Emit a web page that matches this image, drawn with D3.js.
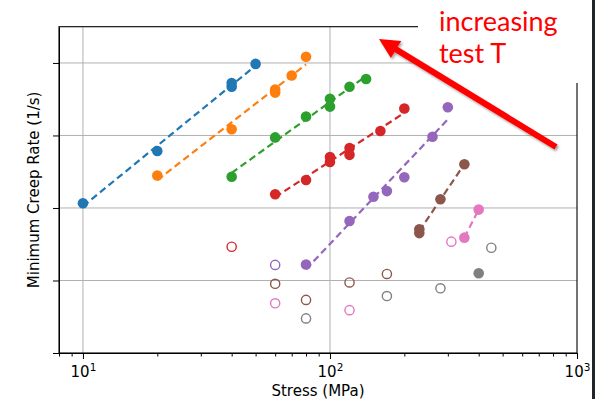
<!DOCTYPE html>
<meta charset="utf-8">
<style>
    body { margin: 0; background: #fff; }
    text { font-family: "DejaVu Sans", sans-serif; }
</style>
<svg width="595" height="399"></svg>
<script src="https://d3js.org/d3.v7.min.js"></script>
<script>

    // filled points + dashed fits, one pair of arrays per test temperature
    var stressBlue = [10, 20, 40, 40, 50],
        rateBlue = [1.16e-8, 6.1e-8, 5.3e-7, 4.7e-7, 9.7e-7];
    var stressOrange = [20, 40, 60, 60, 70, 80],
        rateOrange = [2.8e-8, 1.22e-7, 4.3e-7, 3.9e-7, 6.7e-7, 1.22e-6];
    var stressGreen = [40, 60, 80, 100, 100, 120, 140],
        rateGreen = [2.7e-8, 9.4e-8, 1.82e-7, 3.2e-7, 2.5e-7, 4.7e-7, 6.0e-7];
    var stressRed = [60, 80, 100, 100, 120, 120, 160, 200],
        rateRed = [1.55e-8, 2.43e-8, 5.05e-8, 4.3e-8, 6.7e-8, 5.4e-8, 1.15e-7, 2.36e-7];
    var stressPurple = [80, 120, 150, 170, 200, 260, 300],
        ratePurple = [1.66e-9, 6.6e-9, 1.43e-8, 1.71e-8, 2.65e-8, 9.6e-8, 2.45e-7];
    var stressBrown = [230, 230, 280, 350],
        rateBrown = [5.1e-9, 4.5e-9, 1.32e-8, 4.0e-8];
    var stressPink = [350, 400],
        ratePink = [3.9e-9, 9.5e-9];
    var stressGray = [400],
        rateGray = [1.26e-9];

    // open circles (index into colors)
    var openStress = [40, 60, 60, 60, 80, 80, 120, 120, 170, 170, 280, 310, 450];
    var openRate = [2.92e-9, 1.64e-9, 9.0e-10, 4.85e-10, 5.4e-10, 3.0e-10, 9.4e-10,
        3.9e-10, 1.23e-9, 6.1e-10, 7.8e-10, 3.43e-9, 2.83e-9];
    var openSeries = [3, 4, 5, 6, 5, 7, 5, 6, 5, 7, 7, 6, 7];

    var xMajor = [10, 100, 1000];
    var xMinor = [8, 9, 20, 30, 40, 50, 60, 70, 80, 90, 200, 300, 400, 500, 600, 700, 800, 900];
    var yMajor = [1e-10, 1e-9, 1e-8, 1e-7, 1e-6];

    var colors = ["#1f77b4", "#ff7f0e", "#2ca02c", "#d62728", "#9467bd",
        "#8c564b", "#e377c2", "#7f7f7f"];

    var series = [
        [stressBlue, rateBlue], [stressOrange, rateOrange], [stressGreen, rateGreen],
        [stressRed, rateRed], [stressPurple, ratePurple], [stressBrown, rateBrown],
        [stressPink, ratePink], [stressGray, rateGray]
    ];

    var svg = d3.select("svg"),
        pL = 59, pR = 577, pT = 26.7, pB = 353;

    var x = d3.scaleLog().domain([8, 1000]).range([pL, pR]);
    var y = d3.scaleLog().domain([1e-10, Math.pow(10, -5.5)]).range([pB, pT]);

    // grid
    svg.append("g").selectAll("line").data([10, 100]).enter().append("line")
        .attr("x1", d => x(d)).attr("x2", d => x(d))
        .attr("y1", pT).attr("y2", pB)
        .attr("stroke", "#b0b0b0").attr("stroke-width", 1);
    svg.append("g").selectAll("line").data(yMajor.slice(1)).enter().append("line")
        .attr("x1", pL).attr("x2", pR)
        .attr("y1", d => y(d)).attr("y2", d => y(d))
        .attr("stroke", "#b0b0b0").attr("stroke-width", 1);

    // dashed least-squares fits in log-log space
    var line = d3.line().x(d => x(d[0])).y(d => y(d[1]));
    series.forEach(function (s, i) {
        var xs = s[0], ys = s[1];
        if (xs.length < 2) return;
        var lx = xs.map(Math.log10), ly = ys.map(Math.log10);
        var mx = d3.mean(lx), my = d3.mean(ly);
        var sxy = d3.sum(lx, (v, k) => (v - mx) * (ly[k] - my)),
            sxx = d3.sum(lx, v => (v - mx) * (v - mx));
        var b = sxy / sxx, a = my - b * mx;
        var x0 = d3.min(xs), x1 = d3.max(xs);
        var pts = [x0, x1].map(v => [v, Math.pow(10, a + b * Math.log10(v))]);
        svg.append("path")
            .attr("d", line(pts))
            .attr("fill", "none")
            .attr("stroke", colors[i])
            .attr("stroke-width", 2.2)
            .attr("stroke-dasharray", "7,4");
    });

    // filled markers
    series.forEach(function (s, i) {
        svg.append("g").selectAll("circle").data(s[0]).enter().append("circle")
            .attr("cx", d => x(d))
            .attr("cy", (d, k) => y(s[1][k]))
            .attr("r", 5.3)
            .attr("fill", colors[i]);
    });

    // open markers
    svg.append("g").selectAll("circle").data(openStress).enter().append("circle")
        .attr("cx", d => x(d))
        .attr("cy", (d, k) => y(openRate[k]))
        .attr("r", 4.6)
        .attr("fill", "none")
        .attr("stroke", (d, k) => colors[openSeries[k]])
        .attr("stroke-width", 1.4);

    // axes
    var xAxis = svg.append("g").attr("transform", "translate(0," + pB + ")")
        .call(d3.axisBottom(x).tickValues(xMajor).tickSize(6).tickSizeOuter(0).tickFormat(""));
    svg.append("g").attr("transform", "translate(0," + pB + ")")
        .call(d3.axisBottom(x).tickValues(xMinor).tickSize(3.5).tickSizeOuter(0).tickFormat(""))
        .select(".domain").remove();
    xAxis.selectAll(".tick text").remove();
    xAxis.selectAll(".tick").append("text")
        .attr("y", 24).attr("fill", "#000")
        .attr("text-anchor", "middle")
        .style("font-size", "15px")
        .each(function (d) {
            var t = d3.select(this);
            t.append("tspan").text("10");
            t.append("tspan").attr("dy", -6).style("font-size", "10.5px")
                .text(Math.round(Math.log10(d)));
        });
    var yAxis = svg.append("g").attr("transform", "translate(" + pL + ",0)")
        .call(d3.axisLeft(y).tickValues(yMajor).tickSize(6).tickSizeOuter(0).tickFormat(""));
    yAxis.selectAll(".tick text").remove();

    svg.selectAll(".domain").attr("stroke", "#000");
    svg.selectAll(".tick line").attr("stroke", "#000");

    // spines
    svg.append("rect")
        .attr("x", pL).attr("y", pT)
        .attr("width", pR - pL).attr("height", pB - pT)
        .attr("fill", "none").attr("stroke", "#000").attr("stroke-width", 1.1);

    // axis labels
    svg.append("text")
        .attr("x", (pL + pR) / 2).attr("y", 395.5)
        .attr("text-anchor", "middle").style("font-size", "15px")
        .text("Stress (MPa)");
    svg.append("text")
        .attr("transform", "translate(38.5," + (pT + pB) / 2 + ") rotate(-90)")
        .attr("text-anchor", "middle").style("font-size", "15px")
        .text("Minimum Creep Rate (1/s)");

    // pasted annotation box
    svg.append("rect").attr("x", 418).attr("y", 0).attr("width", 177).attr("height", 83)
        .attr("fill", "#fff");
    var defs = svg.append("defs");
    var f = defs.append("filter").attr("id", "sh").attr("x", "-20%").attr("y", "-20%")
        .attr("width", "140%").attr("height", "140%");
    f.append("feDropShadow").attr("dx", 1.5).attr("dy", 2).attr("stdDeviation", 1.2)
        .attr("flood-color", "#000").attr("flood-opacity", 0.35);

    var tail = [556, 147], tip = [379, 39];
    var dx = tip[0] - tail[0], dy = tip[1] - tail[1], len = Math.hypot(dx, dy);
    var ux = dx / len, uy = dy / len, hl = 20, hw = 10;
    var bx = tip[0] - ux * hl, by = tip[1] - uy * hl;
    var arrow = svg.append("g").attr("filter", "url(#sh)");
    arrow.append("line")
        .attr("x1", tail[0]).attr("y1", tail[1]).attr("x2", bx + ux * 2).attr("y2", by + uy * 2)
        .attr("stroke", "#ff0000").attr("stroke-width", 6);
    arrow.append("polygon")
        .attr("points", [tip, [bx - uy * hw, by + ux * hw], [bx + uy * hw, by - ux * hw]].join(" "))
        .attr("fill", "#ff0000");

    var note = svg.append("g").attr("fill", "#ff0000");
    note.append("text").attr("x", 439).attr("y", 31)
        .style("font-family", "Lato, 'Open Sans', sans-serif").style("font-size", "27px")
        .text("increasing");
    note.append("text").attr("x", 439).attr("y", 63)
        .style("font-family", "Lato, 'Open Sans', sans-serif").style("font-size", "27px")
        .text("test T");

    // dark strip at the right edge of the screenshot
    svg.append("rect").attr("x", 592).attr("y", 0).attr("width", 3).attr("height", 399)
        .attr("fill", "#1f252b");
</script>
